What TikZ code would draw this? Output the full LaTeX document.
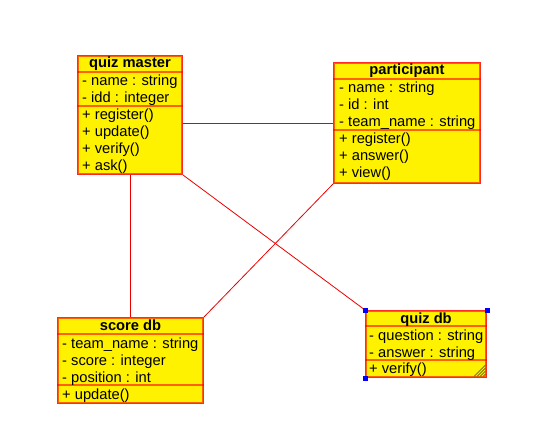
\documentclass[tikz,border=0pt]{standalone}
\usepackage{fontspec}
\setmainfont{Liberation Sans}
\usetikzlibrary{calc}
\begin{document}
\begin{tikzpicture}[x=1pt,y=-1pt,
  classbox/.style={draw=red, draw opacity=0.6, line width=2pt, fill=yellow,
    inner sep=0pt, anchor=north west},
  sepline/.style={draw=red, draw opacity=0.6, line width=2pt},
  classname/.style={font=\fontsize{14.7}{17}\selectfont\bfseries, inner sep=0pt, anchor=base},
  member/.style={font=\fontsize{14.7}{17}\selectfont, inner sep=0pt, anchor=base west},
  assoc/.style={draw=red!92!black, line width=0.8pt},
  handle/.style={fill=blue, draw=none, minimum size=5pt, inner sep=0pt}]

\useasboundingbox (0,0) rectangle (540,443);

% ---------- class boxes ----------
\node[classbox, minimum width=104pt, minimum height=118pt] (qm) at (77,55) {};
\node[classbox, minimum width=146pt, minimum height=120pt] (pa) at (333,62) {};
\node[classbox, minimum width=145pt, minimum height=85pt]  (sd) at (57,317) {};
\node[classbox, minimum width=120pt, minimum height=66pt]  (qd) at (365,310) {};

% ---------- associations ----------
\draw[assoc] (qm.east |- pa.west) -- (pa.west);
\draw[assoc] (qm.south) -- (qm.south |- sd.north);
\draw[assoc] (qm.south east) -- (qd.north west);
\draw[assoc] (pa.south west) -- (sd.north east);

% redraw boxes above the connector ends
\node[classbox, minimum width=104pt, minimum height=118pt] at (77,55) {};
\node[classbox, minimum width=146pt, minimum height=120pt] at (333,62) {};
\node[classbox, minimum width=145pt, minimum height=85pt]  at (57,317) {};
\node[classbox, minimum width=120pt, minimum height=66pt]  at (365,310) {};

% ---------- quiz master ----------
\draw[sepline] ($(qm.north west)+(0,17)$) -- ($(qm.north east)+(0,17)$);
\draw[sepline] ($(qm.north west)+(0,51)$) -- ($(qm.north east)+(0,51)$);
\node[classname] (qmt) at ($(qm.north)+(0,13)$) {quiz master};
\node[member] (qm1) at (82,86)  {- name : string};
\node[member] (qm2) at (82,103) {- idd : integer};
\node[member] (qm3) at (82,120) {+ register()};
\node[member] (qm4) at (82,137) {+ update()};
\node[member] (qm5) at (82,154) {+ verify()};
\node[member] (qm6) at (82,171) {+ ask()};

% ---------- participant ----------
\draw[sepline] ($(pa.north west)+(0,17)$) -- ($(pa.north east)+(0,17)$);
\draw[sepline] ($(pa.north west)+(0,68)$) -- ($(pa.north east)+(0,68)$);
\node[classname] (pat) at ($(pa.north)+(0,13)$) {participant};
\node[member] (pa1) at (339,93)  {- name : string};
\node[member] (pa2) at (339,110) {- id : int};
\node[member] (pa3) at (339,127) {- team\_name : string};
\node[member] (pa4) at (339,144) {+ register()};
\node[member] (pa5) at (339,161) {+ answer()};
\node[member] (pa6) at (339,178) {+ view()};

% ---------- score db ----------
\draw[sepline] ($(sd.north west)+(0,17)$) -- ($(sd.north east)+(0,17)$);
\draw[sepline] ($(sd.north west)+(0,68)$) -- ($(sd.north east)+(0,68)$);
\node[classname] (sdt) at ($(sd.north)+(0,13)$) {score db};
\node[member] (sd1) at (62,348) {- team\_name : string};
\node[member] (sd2) at (62,365) {- score : integer};
\node[member] (sd3) at (62,382) {- position : int};
\node[member] (sd4) at (62,399) {+ update()};

% ---------- quiz db ----------
\draw[sepline] ($(qd.north west)+(0,16)$) -- ($(qd.north east)+(0,16)$);
\draw[sepline] ($(qd.north west)+(0,50)$) -- ($(qd.north east)+(0,50)$);
\node[classname] (qdt) at ($(qd.north)+(0,13)$) {quiz db};
\node[member] (qd1) at (369,340) {- question : string};
\node[member] (qd2) at (369,357) {- answer : string};
\node[member] (qd3) at (369,373) {+ verify()};

% selection handles and resize grip
\node[handle] (h1) at (qd.north west) {};
\node[handle] (h2) at (qd.north east) {};
\node[handle] (h3) at (qd.south west) {};
\foreach \d in {4,7,10,13}
  \draw[olive!85!black, line width=0.8pt] ($(qd.south east)+(-\d,-1.5)$) -- ($(qd.south east)+(-1.5,-\d)$);

\end{tikzpicture}
\end{document}
